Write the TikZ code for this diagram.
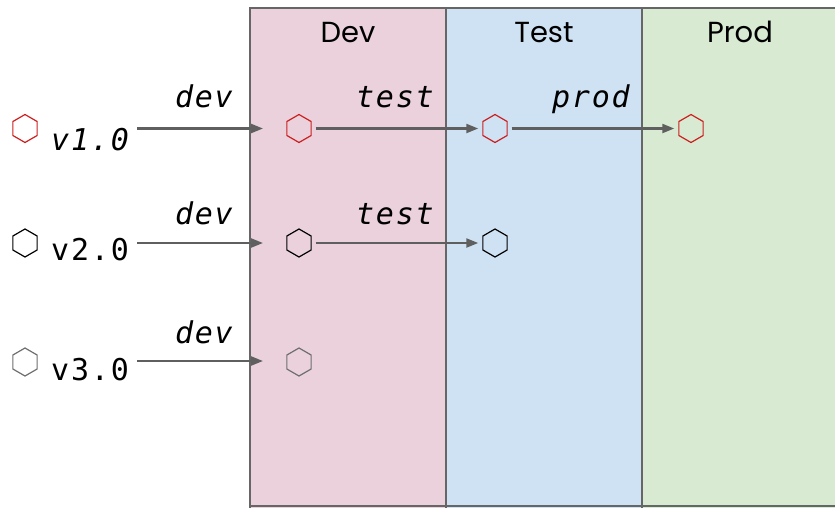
\documentclass[tikz,border=0pt]{standalone}
\usepackage{fontspec}
\setmainfont{Poppins}
\newfontfamily\monofont[LetterSpace=6]{DejaVu Sans Mono}
\usetikzlibrary{shapes.geometric,arrows.meta}
\definecolor{devfill}{HTML}{EAD1DC}
\definecolor{testfill}{HTML}{CFE2F3}
\definecolor{prodfill}{HTML}{D9EAD3}
\definecolor{border}{HTML}{666666}
\definecolor{arrowgray}{HTML}{5F5F5F}
\definecolor{hexred}{HTML}{CC1F1F}
\definecolor{hexgray}{HTML}{6E6E6E}
\tikzset{
  stage/.style={draw=border, line width=2.4pt},
  stagetitle/.style={font=\fontsize{29}{33}\selectfont, anchor=base, inner sep=0pt},
  hexnode/.style={regular polygon, regular polygon sides=6, shape border rotate=30,
    minimum size=28pt, inner sep=0pt, line width=1.2pt, draw=#1},
  vlabel/.style={font=\monofont\fontsize{30}{34}\selectfont, anchor=base west, inner sep=0pt},
  elabel/.style={font=\monofont\itshape\fontsize{30}{34}\selectfont, anchor=base east, inner sep=0pt},
  flow/.style={draw=arrowgray, line width=2.2pt, -{Triangle[length=12pt,width=9pt]}}
}
\begin{document}
\begin{tikzpicture}[x=1pt,y=-1pt]
\useasboundingbox (0,0) rectangle (835,507);
% stages
\fill[devfill] (250,8) rectangle (446,520);
\fill[testfill] (446,8) rectangle (642,520);
\fill[prodfill] (642,8) rectangle (850,520);
\draw[stage] (250,520) -- (250,8) -- (850,8);
\draw[stage] (446,8) -- (446,520);
\draw[stage] (642,8) -- (642,520);
\draw[stage] (250,506) -- (850,506);
\node[stagetitle] (tdev) at (348,42) {Dev};
\node[stagetitle] (ttest) at (544,42) {Test};
\node[stagetitle] (tprod) at (740,42) {Prod};
% version hexagons and labels
\node[hexnode=hexred] (h1) at (25,128.5) {};
\node[hexnode=black] (h2) at (25,243) {};
\node[hexnode=hexgray] (h3) at (25,362) {};
\node[vlabel, font=\monofont\itshape\fontsize{30}{34}\selectfont] (v1) at (51,150) {v1.0};
\node[vlabel] (v2) at (51,260) {v2.0};
\node[vlabel] (v3) at (51,380) {v3.0};
% stage hexagons
\node[hexnode=hexred] (d1) at (299,128.5) {};
\node[hexnode=hexred] (t1) at (495,128.5) {};
\node[hexnode=hexred] (p1) at (691,128.5) {};
\node[hexnode=black] (d2) at (299,243) {};
\node[hexnode=black] (t2) at (495,243) {};
\node[hexnode=hexgray] (d3) at (299,362) {};
% arrow anchors
\coordinate (s1) at (137,128.5);
\coordinate (e1) at (263,128.5);
\coordinate (s2) at (137,243);
\coordinate (e2) at (263,243);
\coordinate (s3) at (137,361);
\coordinate (e3) at (263,361);
% arrows
\draw[flow] (s1) -- (e1);
\draw[flow] (s2) -- (e2);
\draw[flow] (s3) -- (e3);
\draw[flow, shorten <=4pt, shorten >=4pt] (d1) -- (t1);
\draw[flow, shorten <=4pt, shorten >=4pt] (t1) -- (p1);
\draw[flow, shorten <=4pt, shorten >=4pt] (d2) -- (t2);
% edge labels
\node[elabel] (l1) at (233,107.5) {dev};
\node[elabel] (l2) at (233,224) {dev};
\node[elabel] (l3) at (233,343) {dev};
\node[elabel] (l4) at (434,107.5) {test};
\node[elabel] (l5) at (434,224) {test};
\node[elabel] (l6) at (630,107.5) {prod};
\end{tikzpicture}
\end{document}
